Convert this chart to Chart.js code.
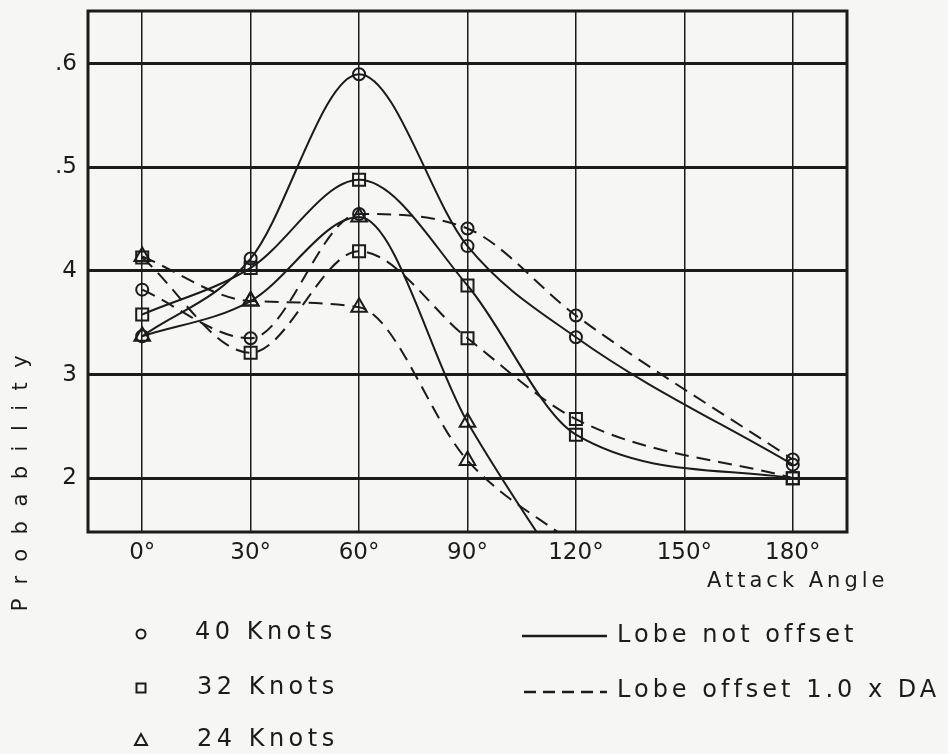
<!DOCTYPE html>
<html>
<head>
<meta charset="utf-8">
<script src="https://cdn.jsdelivr.net/npm/chart.js@4"></script>
<style>
html, body { margin: 0; padding: 0; background: #f6f6f4; }
#wrap { width: 948px; height: 754px; }
</style>
</head>
<body>
<div id="wrap"><canvas id="chart" width="948" height="754"></canvas></div>
<script>
// 数据
const angles = [0, 30, 60, 90, 120, 180];
const knots40Solid  = [0.337, 0.412, 0.590, 0.424, 0.336, 0.213];
const knots40Dashed = [0.382, 0.335, 0.455, 0.441, 0.357, 0.218];
const knots32Solid  = [0.358, 0.403, 0.488, 0.386, 0.242, 0.200];
const knots32Dashed = [0.413, 0.321, 0.419, 0.335, 0.257, 0.200];
const knots24Solid  = [0.337, 0.371, 0.452, 0.254, 0.090, null];
const knots24Dashed = [0.414, 0.371, 0.365, 0.217, 0.135, null];

const xTicks = [0, 30, 60, 90, 120, 150, 180];
const yTicks = [0.2, 0.3, 0.4, 0.5, 0.6];
const yTickLabels = ['2', '3', '4', '.5', '.6'];

const ink = '#1b1b1b';
const font = '"DejaVu Sans", sans-serif';

const pts = vals => angles.map((a, i) => ({ x: a, y: vals[i] })).filter(p => p.y !== null);

function series(label, vals, style, dashed, r) {
    return {
        label, data: pts(vals),
        borderColor: ink, borderWidth: 2, borderDash: dashed ? [14, 8] : [],
        pointStyle: style, pointRadius: r, pointBorderWidth: 2,
        pointBorderColor: ink, pointBackgroundColor: 'rgba(0,0,0,0)',
        cubicInterpolationMode: 'monotone', fill: false
    };
}

// 边框、标题、图例
const extras = {
    id: 'extras',
    afterDraw(chart) {
        const { ctx, chartArea: a } = chart;
        ctx.save();
        ctx.strokeStyle = ink;
        ctx.lineWidth = 3;
        ctx.strokeRect(a.left, a.top, a.right - a.left, a.bottom - a.top);

        ctx.fillStyle = ink;
        ctx.textBaseline = 'middle';

        // y title
        ctx.save();
        ctx.translate(22, 483);
        ctx.rotate(-Math.PI / 2);
        ctx.font = '21px ' + font;
        ctx.letterSpacing = '14.5px';
        ctx.textAlign = 'center';
        ctx.fillText('Probability', 7, 0);
        ctx.restore();

        // x title
        ctx.font = '21px ' + font;
        ctx.letterSpacing = '4px';
        ctx.textAlign = 'left';
        ctx.fillText('Attack Angle', 707, 582);

        // 图例
        ctx.font = '24px ' + font;
        ctx.letterSpacing = '4.5px';
        ctx.fillText('40 Knots', 195, 633);
        ctx.fillText('32 Knots', 197, 688);
        ctx.fillText('24 Knots', 197, 740);
        ctx.letterSpacing = '4px';
        ctx.fillText('Lobe not offset', 617, 636);
        ctx.fillText('Lobe offset 1.0 x DA', 617, 691);

        ctx.lineWidth = 2;
        ctx.beginPath(); ctx.arc(141, 634, 4.5, 0, Math.PI * 2); ctx.stroke();
        ctx.strokeRect(136.5, 683.5, 9, 9);
        ctx.beginPath(); ctx.moveTo(135, 745); ctx.lineTo(147, 745); ctx.lineTo(141, 734); ctx.closePath(); ctx.stroke();

        ctx.lineWidth = 2.5;
        ctx.beginPath(); ctx.moveTo(522, 636); ctx.lineTo(607, 636); ctx.stroke();
        ctx.setLineDash([12, 7]);
        ctx.beginPath(); ctx.moveTo(524, 692); ctx.lineTo(607, 692); ctx.stroke();
        ctx.restore();
    }
};

new Chart(document.getElementById('chart'), {
    type: 'line',
    data: {
        datasets: [
            series('40 Knots, lobe not offset', knots40Solid, 'circle', false, 6),
            series('40 Knots, lobe offset 1.0 x DA', knots40Dashed, 'circle', true, 6),
            series('32 Knots, lobe not offset', knots32Solid, 'rect', false, 8.5),
            series('32 Knots, lobe offset 1.0 x DA', knots32Dashed, 'rect', true, 8.5),
            series('24 Knots, lobe not offset', knots24Solid, 'triangle', false, 9),
            series('24 Knots, lobe offset 1.0 x DA', knots24Dashed, 'triangle', true, 9)
        ]
    },
    options: {
        responsive: false,
        animation: false,
        layout: { padding: { left: 0, top: 9, right: 101, bottom: 0 } },
        plugins: { legend: { display: false }, tooltip: { enabled: false } },
        scales: {
            x: {
                type: 'linear', min: -15, max: 195,
                afterBuildTicks: s => { s.ticks = xTicks.map(v => ({ value: v })); },
                afterFit: s => { s.height = 222; s.paddingLeft = 0; s.paddingRight = 0; },
                ticks: { callback: v => v + '°', font: { family: font, size: 23 }, color: ink, padding: 7, maxRotation: 0, autoSkip: false },
                grid: { color: ink, lineWidth: 1.5, drawTicks: false },
                border: { display: false }
            },
            y: {
                min: 0.148, max: 0.651,
                afterBuildTicks: s => { s.ticks = yTicks.map(v => ({ value: v })); },
                afterFit: s => { s.width = 88; s.paddingTop = 0; s.paddingBottom = 0; },
                ticks: { callback: (v, i) => yTickLabels[i], font: { family: font, size: 23 }, color: ink, padding: 11 },
                grid: { color: ink, lineWidth: 3, drawTicks: false },
                border: { display: false }
            }
        }
    },
    plugins: [extras]
});
</script>
</body>
</html>
